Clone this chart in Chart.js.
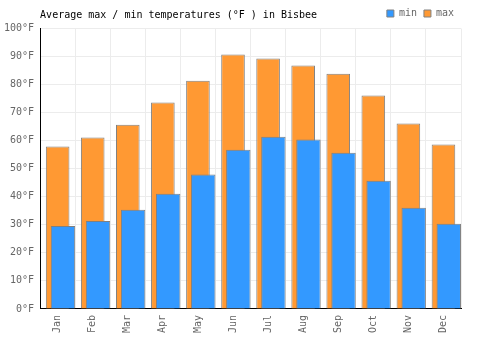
<!DOCTYPE html>
<html lang="en">
<head>
    <meta charset="UTF-8">
    <title>Bisbee temperatures</title>
    <style>
        html, body { margin: 0; padding: 0; background: #fff; }
        .chart-container { width: 500px; height: 350px; }
    </style>
</head>
<body>
<div class="chart-container">
    <canvas id="temps"></canvas>
</div>

<script src="https://cdn.jsdelivr.net/npm/chart.js@4.4.1/dist/chart.umd.min.js"></script>
<script>
    const months = ['Jan', 'Feb', 'Mar', 'Apr', 'May', 'Jun', 'Jul', 'Aug', 'Sep', 'Oct', 'Nov', 'Dec'];
    const minTemps = [29.6, 31.4, 35.4, 41.1, 47.9, 56.8, 61.4, 60.4, 55.7, 45.7, 36.1, 30.4];
    const maxTemps = [57.9, 61.1, 65.7, 73.6, 81.4, 90.7, 89.3, 86.8, 83.9, 76.1, 66.1, 58.6];
    const yTicks = [0, 10, 20, 30, 40, 50, 60, 70, 80, 90, 100];

    const colors = {
        min: 'rgb(51, 153, 255)',
        max: 'rgb(255, 153, 51)',
        border: 'rgb(128, 128, 128)',
        grid: 'rgb(236, 236, 236)',
        text: 'rgb(102, 102, 102)'
    };

    const monoFont = { family: "'DejaVu Sans Mono', monospace", size: 10 };

    // the min bars sit to the right of the max bars but have to be painted on top
    const minOnTop = {
        id: 'minOnTop',
        beforeDatasetDraw(chart, args) {
            if (args.index === 0) {
                return false;
            }
        },
        afterDatasetsDraw(chart) {
            const area = chart.chartArea;
            const ctx = chart.ctx;
            ctx.save();
            ctx.beginPath();
            ctx.rect(area.left, area.top, area.right - area.left, area.bottom - area.top);
            ctx.clip();
            chart.getDatasetMeta(0).controller.draw();
            ctx.restore();
        }
    };

    const ctx = document.getElementById('temps').getContext('2d');
    const chart = new Chart(ctx, {
        type: 'bar',
        data: {
            labels: months,
            datasets: [{
                label: 'min',
                data: minTemps,
                backgroundColor: colors.min,
                borderColor: colors.border,
                borderWidth: 1,
                borderSkipped: 'bottom',
                barPercentage: 4.6,
                categoryPercentage: 0.454,
                order: 2
            },
            {
                label: 'max',
                data: maxTemps,
                backgroundColor: colors.max,
                borderColor: colors.border,
                borderWidth: 1,
                borderSkipped: 'bottom',
                barPercentage: 4.45,
                categoryPercentage: 0.454,
                order: 1
            },
            {
                // empty slot so the max bars stay centred on their month
                label: '',
                data: months.map(() => null),
                categoryPercentage: 0.454,
                order: 0
            }]
        },
        plugins: [minOnTop],
        options: {
            responsive: true,
            maintainAspectRatio: false,
            animation: false,
            devicePixelRatio: 1,
            layout: {
                padding: { left: -2, right: 39, top: -2, bottom: 11 }
            },
            plugins: {
                title: {
                    display: true,
                    text: 'Average max / min temperatures (°F ) in Bisbee',
                    align: 'start',
                    fullSize: false,
                    color: '#000',
                    font: { family: monoFont.family, size: 10, weight: 'normal' },
                    padding: { top: 11, bottom: -19.5 }
                },
                legend: {
                    position: 'top',
                    align: 'end',
                    labels: {
                        filter: item => item.text !== '',
                        sort: (a, b) => a.datasetIndex - b.datasetIndex,
                        boxWidth: 7,
                        boxHeight: 7,
                        padding: 7,
                        color: colors.text,
                        font: monoFont
                    }
                },
                tooltip: { enabled: false }
            },
            scales: {
                x: {
                    grid: {
                        color: colors.grid,
                        drawTicks: false,
                        offset: true
                    },
                    border: { color: '#000', width: 1 },
                    ticks: {
                        color: colors.text,
                        font: monoFont,
                        padding: 6,
                        minRotation: 90,
                        maxRotation: 90
                    }
                },
                y: {
                    min: 0,
                    max: 100,
                    afterBuildTicks: axis => {
                        axis.ticks = yTicks.map(v => ({ value: v }));
                    },
                    grid: {
                        color: colors.grid,
                        drawTicks: false
                    },
                    border: { color: '#000', width: 1 },
                    ticks: {
                        color: colors.text,
                        font: monoFont,
                        padding: 6,
                        callback: value => value + '°F'
                    }
                }
            }
        }
    });
</script>
</body>
</html>
